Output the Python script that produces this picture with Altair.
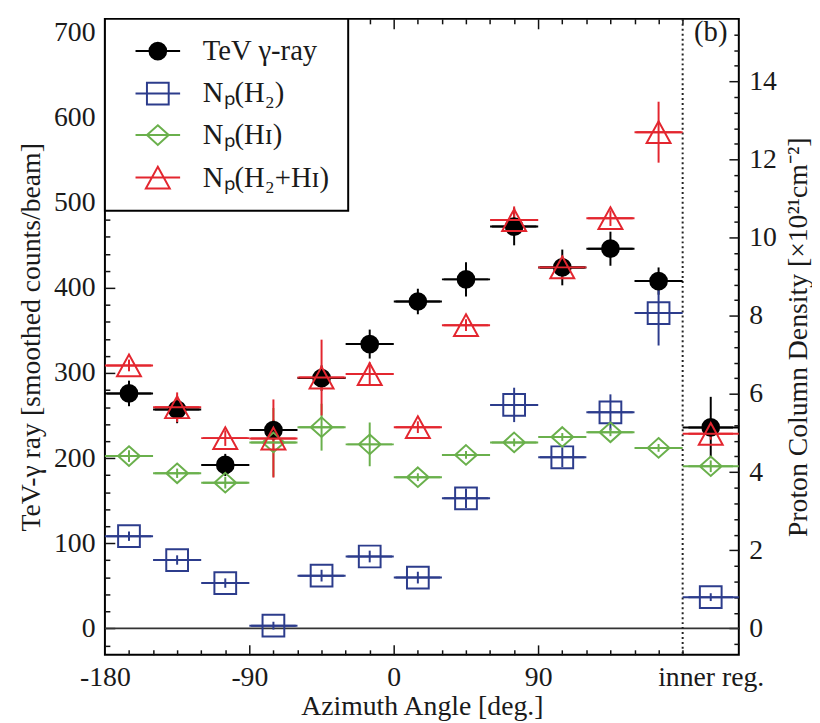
import altair as alt
import pandas as pd

# ---------------- data ----------------
series_names = ["TeV γ-ray", "Nₚ(H₂)", "Nₚ(Hɪ)", "Nₚ(H₂+Hɪ)"]
series_colors = ["#000000", "#2c3c8c", "#6ab04c", "#e3262f"]
series_fills = ["#000000", "transparent", "transparent", "transparent"]

azimuth = [-165, -135, -105, -75, -45, -15, 15, 45, 75, 105, 135, 165, 197.5]
bin_lo = [-180, -150, -120, -90, -60, -30, 0, 30, 60, 90, 120, 150, 180]
bin_hi = [-150, -120, -90, -60, -30, 0, 30, 60, 90, 120, 150, 180, 215]

tev = [276, 257, 192, 233, 294, 334, 384, 410, 472, 424, 446, 408, 236]
tev_err = [15, 16, 13, 12, 15, 17, 15, 20, 22, 21, 20, 16, 36]

np_h2 = [2.36, 1.75, 1.16, 0.07, 1.35, 1.84, 1.30, 3.33, 5.72, 4.38, 5.53, 8.07, 0.80]
np_h2_err = [0.12, 0.12, 0.12, 0.10, 0.15, 0.15, 0.15, 0.25, 0.44, 0.25, 0.46, 0.83, 0.10]
np_hi = [4.41, 3.97, 3.73, 4.76, 5.15, 4.71, 3.87, 4.44, 4.76, 4.90, 5.02, 4.62, 4.15]
np_hi_err = [0.15, 0.12, 0.15, 0.88, 0.60, 0.56, 0.10, 0.10, 0.10, 0.10, 0.10, 0.10, 0.15]
np_tot = [6.73, 5.66, 4.87, 4.86, 6.42, 6.51, 5.15, 7.76, 10.45, 9.24, 10.50, 12.70, 4.98]
np_tot_err = [0.15, 0.38, 0.20, 1.00, 0.97, 0.30, 0.15, 0.15, 0.35, 0.30, 0.20, 0.78, 0.15]

x_label_values = [-180, -90, 0, 90, 197.5]
x_label_texts = ["-180", "-90", "0", "90", "inner reg."]
left_label_values = [0, 100, 200, 300, 400, 500, 600, 700]
right_label_values = [0, 2, 4, 6, 8, 10, 12, 14]
x_major_ticks = [-90, 0, 90]
x_minor_ticks = [-165, -150, -135, -120, -105, -75, -60, -45, -30, -15,
                 15, 30, 45, 60, 75, 105, 120, 135, 150, 165, 180]
left_minor_ticks = [-20, 20, 40, 60, 80, 120, 140, 160, 180, 220, 240, 260, 280,
                    320, 340, 360, 380, 420, 440, 460, 480, 520, 540, 560, 580,
                    620, 640, 660, 680]
right_minor_ticks = [-0.4, 0.4, 0.8, 1.2, 1.6, 2.4, 2.8, 3.2, 3.6, 4.4, 4.8, 5.2, 5.6,
                     6.4, 6.8, 7.2, 7.6, 8.4, 8.8, 9.2, 9.6, 10.4, 10.8, 11.2, 11.6,
                     12.4, 12.8, 13.2, 13.6, 14.4, 14.8, 15.2]

panel_label = "(b)"
panel_label_pos = (197.5, 700)

# ---------------- styling ----------------
W, H = 641, 643
FONT = "Liberation Serif"
TXT = "#1a1a1a"
x_dom = [-180, 215]
yl_dom = [-31, 716]
yr_dom = [-0.675, 15.6]

# symbol + horizontal stroke (so that the legend shows the error-bar line)
symbol_paths = [
    "M-0.77,0A0.77,0.77 0 1,1 0.77,0A0.77,0.77 0 1,1 -0.77,0ZM-2.05,0L2.05,0",
    "M-1,-1L1,-1L1,1L-1,1ZM-2.05,0L2.05,0",
    "M0,-0.9L1,0L0,0.9L-1,0ZM-2.05,0L2.05,0",
    "M0,-1L1.1,1L-1.1,1ZM-2.05,0L2.05,0",
]

xscale = alt.Scale(domain=x_dom, nice=False, zero=False)
yl_scale = alt.Scale(domain=yl_dom, nice=False, zero=False)
yr_scale = alt.Scale(domain=yr_dom, nice=False, zero=False)
shape_scale = alt.Scale(domain=series_names, range=symbol_paths)
stroke_scale = alt.Scale(domain=series_names, range=series_colors)
fill_scale = alt.Scale(domain=series_names, range=series_fills)

leg = alt.Legend(
    title=None, orient="none", legendX=0, legendY=0,
    fillColor="white", strokeColor="black", padding=18, rowPadding=12,
    symbolSize=484, symbolStrokeWidth=2, symbolOffset=21, labelOffset=31,
    labelFont=FONT, labelFontSize=29, labelColor=TXT, labelLimit=400,
)


def tick_axis(orient, values, length):
    return alt.Axis(orient=orient, values=values, offset=-length, tickSize=length,
                    tickWidth=1.5, tickColor="#111111", labels=False, domain=False,
                    grid=False, title=None)


label_expr = ""
for v, t in zip(x_label_values, x_label_texts):
    label_expr += f"datum.value == {v} ? '{t}' : "
label_expr += "''"

bottom_axis = alt.Axis(orient="bottom", values=x_label_values, labelExpr=label_expr,
                       ticks=False, domain=False, grid=False, labelFlush=False,
                       labelOverlap=False, labelPadding=9, labelFont=FONT,
                       labelFontSize=28, labelColor=TXT,
                       title="Azimuth Angle [deg.]", titleFont=FONT, titleFontSize=28,
                       titleFontWeight="normal", titleColor=TXT, titlePadding=1)
left_axis = alt.Axis(orient="left", values=left_label_values, ticks=False, domain=False,
                     grid=False, labelPadding=10, labelFont=FONT, labelFontSize=28,
                     labelColor=TXT, title="TeV-γ ray [smoothed counts/beam]",
                     titleFont=FONT, titleFontSize=28, titleFontWeight="normal",
                     titleColor=TXT, titlePadding=8)
right_axis = alt.Axis(orient="right", values=right_label_values, ticks=False, domain=False,
                      grid=False, labelPadding=10, labelFont=FONT, labelFontSize=28,
                      labelColor=TXT, title="Proton Column Density [×10²¹cm⁻²]",
                      titleFont=FONT, titleFontSize=28, titleFontWeight="normal",
                      titleColor=TXT, titlePadding=8, titleAngle=270,
                      titleBaseline="top")

# ---------------- tables ----------------
tev_df = pd.DataFrame({"series": series_names[0], "azimuth": azimuth, "lo": bin_lo,
                       "hi": bin_hi, "val": tev, "err": tev_err})
prot_parts = []
for name, vals, errs in [(series_names[1], np_h2, np_h2_err),
                         (series_names[2], np_hi, np_hi_err),
                         (series_names[3], np_tot, np_tot_err)]:
    prot_parts.append(pd.DataFrame({"series": name, "azimuth": azimuth, "lo": bin_lo,
                                    "hi": bin_hi, "val": vals, "err": errs}))
prot_df = pd.concat(prot_parts, ignore_index=True)

stroke_enc = alt.Stroke("series:N", scale=stroke_scale, legend=leg)

# ---------------- layers ----------------
zero_layer = alt.Chart(pd.DataFrame({"y": [0]})).mark_rule(
    color="#333333", strokeWidth=2).encode(
    y=alt.Y("y:Q", scale=yl_scale, axis=left_axis))

inner_sep = alt.Chart(pd.DataFrame({"x": [180]})).mark_rule(
    color="#222222", strokeWidth=2, strokeDash=[2, 3]).encode(
    x=alt.X("x:Q", scale=xscale, axis=bottom_axis))

tev_h = alt.Chart(tev_df).mark_rule(strokeWidth=2).encode(
    x=alt.X("lo:Q", scale=xscale, axis=tick_axis("bottom", x_major_ticks, 10)),
    x2="hi:Q",
    y=alt.Y("val:Q", scale=yl_scale, axis=tick_axis("left", left_label_values, 10)),
    stroke=stroke_enc)

tev_v = alt.Chart(tev_df).transform_calculate(
    ylo="datum.val - datum.err", yhi="datum.val + datum.err").mark_rule(
    strokeWidth=2).encode(
    x=alt.X("azimuth:Q", scale=xscale, axis=tick_axis("bottom", x_minor_ticks, 5)),
    y=alt.Y("ylo:Q", scale=yl_scale, axis=tick_axis("left", left_minor_ticks, 5)),
    y2="yhi:Q",
    stroke=stroke_enc)

prot_h = alt.Chart(prot_df).mark_rule(strokeWidth=2).encode(
    x=alt.X("lo:Q", scale=xscale, axis=tick_axis("top", x_minor_ticks, 5)),
    x2="hi:Q",
    y=alt.Y("val:Q", scale=yr_scale, axis=right_axis),
    stroke=stroke_enc)

prot_v = alt.Chart(prot_df).transform_calculate(
    ylo="datum.val - datum.err", yhi="datum.val + datum.err").mark_rule(
    strokeWidth=2).encode(
    x=alt.X("azimuth:Q", scale=xscale, axis=None),
    y=alt.Y("ylo:Q", scale=yr_scale, axis=tick_axis("right", right_label_values, 10)),
    y2="yhi:Q",
    stroke=stroke_enc)

tev_pts = alt.Chart(tev_df).mark_point(filled=False, size=484, strokeWidth=2,
                                       opacity=1).encode(
    x=alt.X("azimuth:Q", scale=xscale, axis=tick_axis("top", x_major_ticks, 10)),
    y=alt.Y("val:Q", scale=yl_scale, axis=None),
    shape=alt.Shape("series:N", scale=shape_scale, legend=leg),
    stroke=stroke_enc,
    fill=alt.Fill("series:N", scale=fill_scale, legend=leg))

prot_pts = alt.Chart(prot_df).mark_point(filled=False, size=484, strokeWidth=2,
                                         opacity=1).encode(
    x=alt.X("azimuth:Q", scale=xscale, axis=None),
    y=alt.Y("val:Q", scale=yr_scale, axis=tick_axis("right", right_minor_ticks, 5)),
    shape=alt.Shape("series:N", scale=shape_scale, legend=leg),
    stroke=stroke_enc,
    fill=alt.Fill("series:N", scale=fill_scale, legend=leg))

label_layer = alt.Chart(pd.DataFrame({"x": [panel_label_pos[0]], "y": [panel_label_pos[1]],
                                      "t": [panel_label]})).mark_text(
    font=FONT, fontSize=29, color=TXT, align="center", baseline="middle").encode(
    x=alt.X("x:Q", scale=xscale, axis=None),
    y=alt.Y("y:Q", scale=yl_scale, axis=None),
    text="t:N")

chart = alt.layer(
    zero_layer, inner_sep, tev_h, tev_v, prot_h, prot_v, tev_pts, prot_pts, label_layer
).resolve_scale(y="independent").resolve_axis(x="independent", y="independent").properties(
    width=W, height=H, background="white",
    padding={"left": 10, "top": 6, "right": 0, "bottom": 0},
).configure_view(stroke="black", strokeWidth=2).configure_legend(strokeWidth=2)

chart.save("out.html", embed_options={"renderer": "svg", "actions": False})
